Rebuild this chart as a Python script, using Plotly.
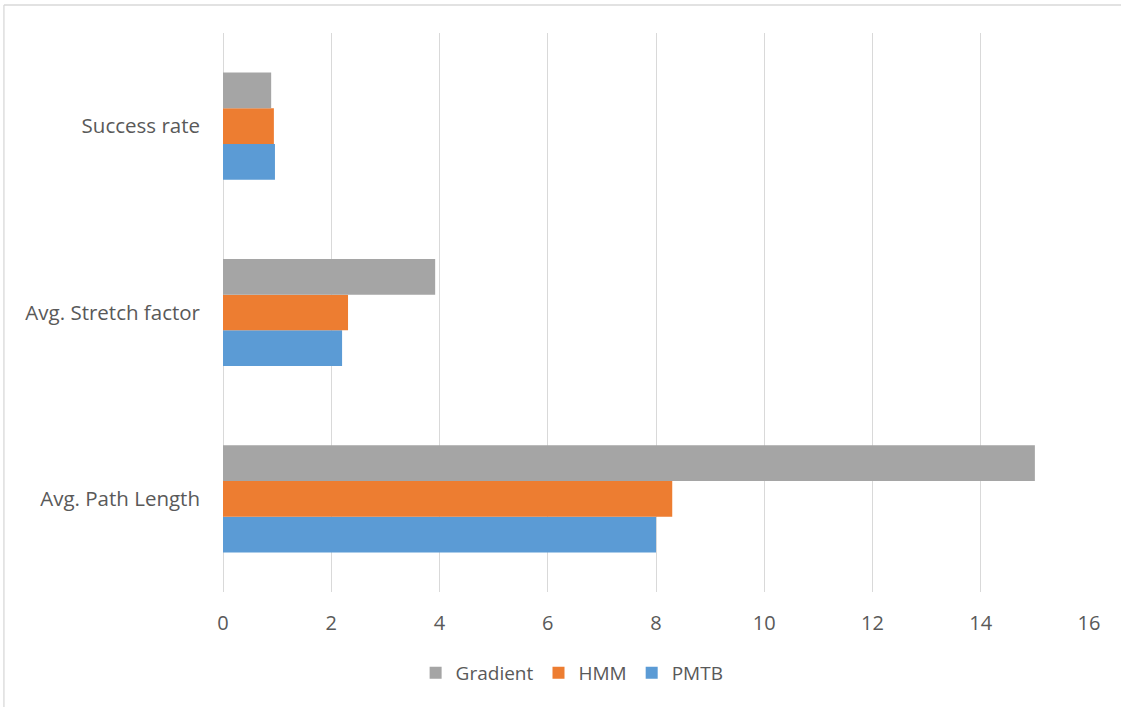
import plotly.graph_objects as go

# Metrics shown on the vertical axis (bottom to top)
categories = ["Avg. Path Length", "Avg. Stretch factor", "Success rate"]

# Values per method, same order as categories
pmtb = [8.0, 2.2, 0.96]
hmm = [8.3, 2.31, 0.94]
gradient = [15.0, 3.92, 0.89]

x_ticks = [0, 2, 4, 6, 8, 10, 12, 14, 16]

text_color = "#595959"
grid_color = "#d9d9d9"
font_family = "'Open Sans', Lato, sans-serif"

fig = go.Figure()
fig.add_trace(go.Bar(name="PMTB", y=categories, x=pmtb, orientation="h",
                     marker=dict(color="#5B9BD5", line=dict(width=0))))
fig.add_trace(go.Bar(name="HMM", y=categories, x=hmm, orientation="h",
                     marker=dict(color="#ED7D31", line=dict(width=0))))
fig.add_trace(go.Bar(name="Gradient", y=categories, x=gradient, orientation="h",
                     marker=dict(color="#A5A5A5", line=dict(width=0))))

# plot area in pixels
W, H = 1121, 707
left, right, top, bottom = 223, 1088.7, 33, 592


def px_x(px):
    return (px - left) / (right - left)


def px_y(py):
    return (bottom - py) / (bottom - top)


fig.update_layout(
    width=W, height=H,
    margin=dict(l=left, r=W - right, t=top, b=H - bottom, autoexpand=False),
    paper_bgcolor="white", plot_bgcolor="white",
    font=dict(family=font_family, size=19, color=text_color),
    barmode="group", bargap=0.425, bargroupgap=0,
    showlegend=True,
    legend=dict(orientation="h", traceorder="reversed",
                x=px_x(572), xanchor="center", y=px_y(673), yanchor="middle",
                font=dict(size=19, color=text_color),
                itemwidth=30, tracegroupgap=0, bgcolor="rgba(0,0,0,0)"),
    xaxis=dict(range=[0, 16], tickvals=x_ticks, ticktext=[str(v) for v in x_ticks],
               showgrid=True, gridcolor=grid_color, gridwidth=1.3,
               zeroline=True, zerolinecolor=grid_color, zerolinewidth=1.3,
               showline=False, ticks="", ticklabelstandoff=17,
               tickfont=dict(size=20, color=text_color)),
    yaxis=dict(categoryorder="array", categoryarray=categories,
               showgrid=False, zeroline=False, showline=False, ticks="",
               ticklabelstandoff=22, tickfont=dict(size=20.5, color=text_color)),
    shapes=[
        # chart frame edges
        dict(type="line", xref="paper", yref="paper",
             x0=px_x(4), x1=px_x(W + 5), y0=px_y(5), y1=px_y(5),
             line=dict(color=grid_color, width=1.3)),
        dict(type="line", xref="paper", yref="paper",
             x0=px_x(4), x1=px_x(4), y0=px_y(5), y1=px_y(H + 5),
             line=dict(color=grid_color, width=1.3)),
    ],
)

fig.write_html("out.html")
